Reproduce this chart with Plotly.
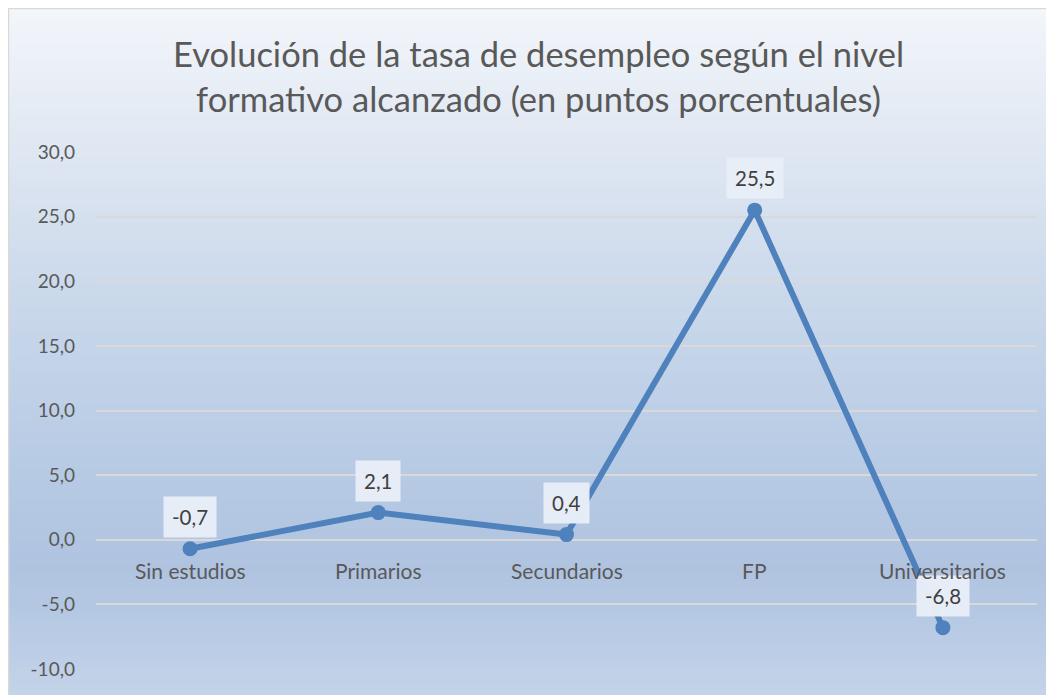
import plotly.graph_objects as go

categories = ["Sin estudios", "Primarios", "Secundarios", "FP", "Universitarios"]
values = [-0.7, 2.1, 0.4, 25.5, -6.8]
tick_vals = [-10, -5, 0, 5, 10, 15, 20, 25, 30]
tick_text = ["-10,0", "-5,0", "0,0", "5,0", "10,0", "15,0", "20,0", "25,0", "30,0"]
title_text = "Evolución de la tasa de desempleo según el nivel<br>formativo alcanzado (en puntos porcentuales)"

OFF = 8  # page body margin
SW, SH = 1054, 695  # screen size
W, H = SW - OFF, SH - OFF
# plot area in screen pixels
SL, SR, ST, SB = 96, 1037, 152, 669
L, T = SL - OFF, ST - OFF
R, B = W - (SR - OFF), H - (SB - OFF)
PW, PH = W - L - R, H - T - B
FONT = "Lato"
TXT = "#595959"

def px_x(q):  # screen x -> paper
    return (q - SL) / PW

def px_y(p):  # screen y -> paper
    return (SB - p) / PH

def hex2rgb(h):
    h = h.lstrip("#")
    return tuple(int(h[i:i + 2], 16) for i in (0, 2, 4))

stops = [(0, "#f4f7fb"), (150, "#dfe7f2"), (300, "#cad8eb"), (450, "#b9cce5"),
         (570, "#afc3e0"), (695, "#c3d3e9")]

def color_at(p):
    for (p0, c0), (p1, c1) in zip(stops[:-1], stops[1:]):
        if p0 <= p <= p1:
            t = (p - p0) / (p1 - p0)
            a, b = hex2rgb(c0), hex2rgb(c1)
            return "rgb(%d,%d,%d)" % tuple(round(a[i] + (b[i] - a[i]) * t) for i in range(3))
    return stops[-1][1]

shapes = []
band = 6
p = 7
while p < SH + 5:
    p2 = min(p + band, SH + 5)
    shapes.append(dict(type="rect", xref="paper", yref="paper", x0=px_x(8), x1=px_x(1050),
                       y0=px_y(p2 + 0.5), y1=px_y(p), fillcolor=color_at((p + p2) / 2),
                       line=dict(width=0), layer="below"))
    p = p2
shapes.append(dict(type="rect", xref="paper", yref="paper", x0=px_x(8.5), x1=px_x(1050),
                   y0=px_y(SH + 20), y1=px_y(8.5), fillcolor="rgba(0,0,0,0)",
                   line=dict(color="#d9d9d9", width=1.5), layer="below"))

fig = go.Figure()
fig.add_trace(go.Scatter(
    x=categories, y=values, mode="lines+markers",
    line=dict(color="#4f81bd", width=6),
    marker=dict(color="#4f81bd", size=15),
    hoverinfo="skip", showlegend=False, cliponaxis=False,
))

annotations = []
for c, v in zip(categories, values):
    annotations.append(dict(
        x=c, y=v, xref="x", yref="y", text=("%.1f" % v).replace(".", ","),
        showarrow=False, yanchor="middle", yshift=32,
        font=dict(family=FONT, size=20.5, color="#404040"),
        bgcolor="rgba(232,238,247,0.98)", borderpad=8,
    ))
    annotations.append(dict(
        x=c, y=0, xref="x", yref="y", text=c, showarrow=False,
        yanchor="middle", yshift=-31,
        font=dict(family=FONT, size=21, color=TXT),
    ))
annotations.append(dict(
    x=px_x(538), y=px_y(76), xref="paper", yref="paper", text=title_text,
    showarrow=False, xanchor="center", yanchor="middle",
    font=dict(family=FONT, size=34.5, color=TXT),
))

fig.update_layout(
    width=W, height=H,
    margin=dict(l=L, r=R, t=T, b=B, autoexpand=False),
    paper_bgcolor="white", plot_bgcolor="rgba(0,0,0,0)",
    shapes=shapes, annotations=annotations,
    xaxis=dict(range=[-0.5, 4.5], showticklabels=False, showgrid=False,
               zeroline=False, showline=False, fixedrange=True),
    yaxis=dict(range=[-10, 30], tickvals=tick_vals, ticktext=tick_text,
               showgrid=True, gridcolor="#d9d9d9", gridwidth=1.5,
               zeroline=False, showline=False, ticklabelstandoff=20,
               tickfont=dict(family=FONT, size=19, color=TXT)),
)

fig.write_html("out.html")
